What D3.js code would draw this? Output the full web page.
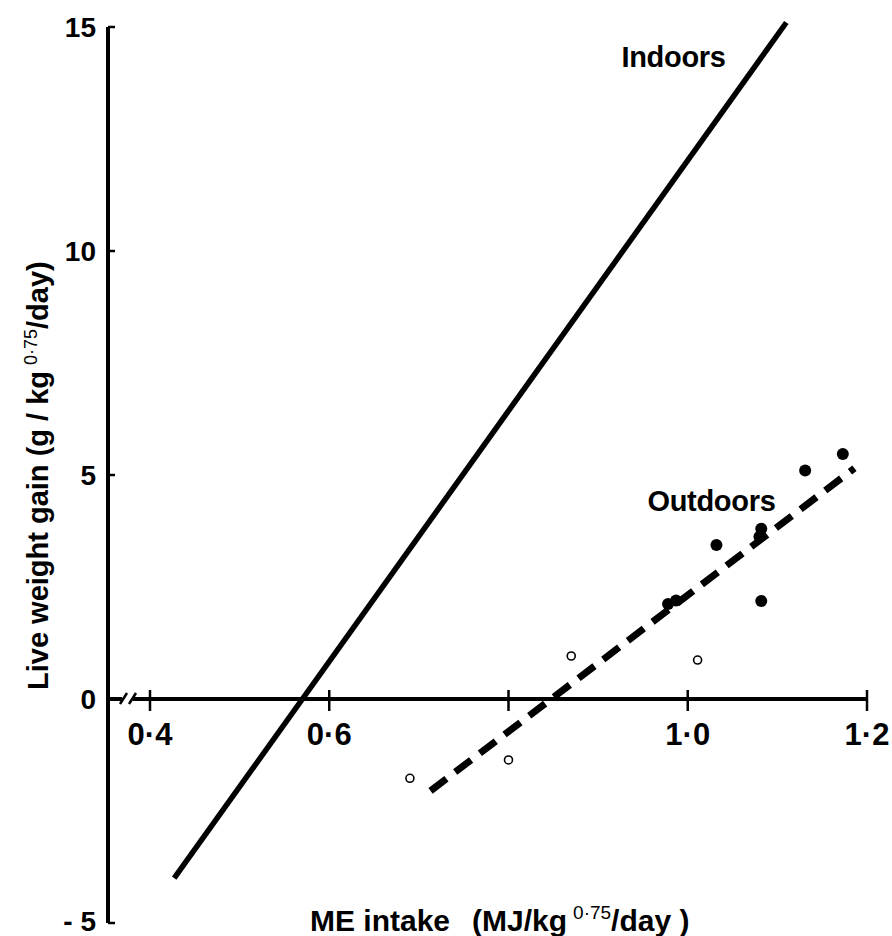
<!DOCTYPE html>
<html>
<head>
<meta charset="utf-8">
<script src="https://cdn.jsdelivr.net/npm/d3@7"></script>
<style>
  body { margin: 0; background: #fff; }
  text { font-family: "Liberation Sans", Arial, sans-serif; font-weight: bold; fill: #000; }
</style>
</head>
<body>
<svg width="892" height="936"></svg>
<script>
// data
const xTicks = [0.4, 0.6, 0.8, 1.0, 1.2];
const xTickLabels = ["0·4", "0·6", "", "1·0", "1·2"];
const yTicks = [-5, 0, 5, 10, 15];
const yTickLabels = ["- 5", "0", "5", "10", "15"];

// fitted lines (end points)
const indoorsX = [0.427, 1.11];
const indoorsY = [-4.0, 15.1];
const outdoorsFitX = [0.713, 1.186];
const outdoorsFitY = [-2.05, 5.15];

// outdoor observations: filled and open symbols
const filledX = [1.173, 1.131, 1.032, 1.082, 1.080, 0.978, 0.987, 1.082];
const filledY = [5.47, 5.10, 3.44, 3.80, 3.62, 2.12, 2.20, 2.19];
const openX = [0.870, 1.011, 0.800, 0.690];
const openY = [0.96, 0.87, -1.36, -1.77];

const svg = d3.select("svg");
const x = d3.scaleLinear().domain([0.4, 1.2]).range([150, 867]);
const y = d3.scaleLinear().domain([-5, 15]).range([923, 27]);
const axisX = 108;

// y axis
svg.append("line")
    .attr("x1", axisX).attr("x2", axisX)
    .attr("y1", y(15)).attr("y2", y(-5))
    .attr("stroke", "#000").attr("stroke-width", 4);

svg.selectAll(".ytick").data(yTicks).enter().append("line")
    .attr("x1", axisX).attr("x2", axisX + 7)
    .attr("y1", d => y(d)).attr("y2", d => y(d))
    .attr("stroke", "#000").attr("stroke-width", 2.5);

svg.selectAll(".ylab").data(yTicks).enter().append("text")
    .attr("x", 96)
    .attr("y", d => Math.min(y(d) + 10, 931))
    .attr("text-anchor", "end")
    .style("font-size", "28px")
    .text((d, i) => yTickLabels[i]);

// x axis with break near the origin
svg.append("line")
    .attr("x1", axisX).attr("x2", 122)
    .attr("y1", y(0)).attr("y2", y(0))
    .attr("stroke", "#000").attr("stroke-width", 4);
svg.append("line")
    .attr("x1", 133).attr("x2", x(1.2))
    .attr("y1", y(0)).attr("y2", y(0))
    .attr("stroke", "#000").attr("stroke-width", 4);
[122, 131].forEach(b => {
  svg.append("line")
      .attr("x1", b - 2).attr("x2", b + 5)
      .attr("y1", y(0) + 5).attr("y2", y(0) - 6)
      .attr("stroke", "#000").attr("stroke-width", 2.5);
});

svg.selectAll(".xtick").data(xTicks).enter().append("line")
    .attr("x1", d => x(d)).attr("x2", d => x(d))
    .attr("y1", y(0) - 9).attr("y2", y(0) + 12)
    .attr("stroke", "#000").attr("stroke-width", 2.5);

svg.selectAll(".xlab").data(xTicks).enter().append("text")
    .attr("x", d => x(d))
    .attr("y", y(0) + 46)
    .attr("text-anchor", "middle")
    .style("font-size", "31px")
    .text((d, i) => xTickLabels[i]);

// lines
const line = d3.line().x(d => x(d[0])).y(d => y(d[1]));

svg.append("path")
    .datum(d3.zip(indoorsX, indoorsY))
    .attr("d", line)
    .attr("fill", "none").attr("stroke", "#000").attr("stroke-width", 5.5);

svg.append("path")
    .datum(d3.zip(outdoorsFitX, outdoorsFitY))
    .attr("d", line)
    .attr("fill", "none").attr("stroke", "#000").attr("stroke-width", 7)
    .attr("stroke-dasharray", "20,11");

// points
svg.selectAll(".filled").data(d3.zip(filledX, filledY)).enter().append("circle")
    .attr("cx", d => x(d[0])).attr("cy", d => y(d[1]))
    .attr("r", 6).attr("fill", "#000");

svg.selectAll(".open").data(d3.zip(openX, openY)).enter().append("circle")
    .attr("cx", d => x(d[0])).attr("cy", d => y(d[1]))
    .attr("r", 4).attr("fill", "#fff").attr("stroke", "#000").attr("stroke-width", 1.6);

// annotations
svg.append("text")
    .attr("x", x(0.926)).attr("y", y(14.1))
    .style("font-size", "29px").style("letter-spacing", "-0.3px")
    .text("Indoors");

svg.append("text")
    .attr("x", x(0.955)).attr("y", y(4.2))
    .style("font-size", "29px").style("letter-spacing", "-0.3px")
    .text("Outdoors");

// axis titles
const xt = svg.append("text")
    .attr("x", 310).attr("y", 931)
    .style("font-size", "30px");
xt.append("tspan").text("ME intake");
xt.append("tspan").attr("dx", 22).text("(MJ/kg");
xt.append("tspan").attr("dx", 6).attr("dy", -12).style("font-size", "19px").style("font-weight", "normal").text("0·75");
xt.append("tspan").attr("dy", 12).text("/day )");

const yt = svg.append("text")
    .attr("transform", "translate(48,690) rotate(-90)")
    .style("font-size", "29px");
yt.append("tspan").text("Live weight gain (g / kg");
yt.append("tspan").attr("dx", 6).attr("dy", -11).style("font-size", "18px").style("font-weight", "normal").text("0·75");
yt.append("tspan").attr("dy", 11).text("/day)");
</script>
</body>
</html>
